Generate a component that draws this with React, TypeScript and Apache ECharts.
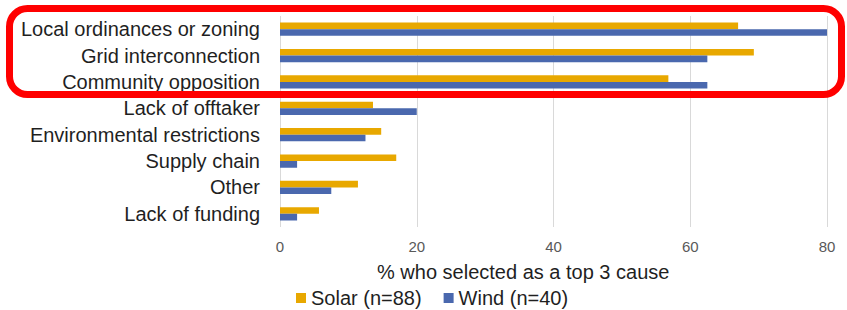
import React, { useEffect, useRef } from "react";
import * as echarts from "echarts";

const categories = [
  "Local ordinances or zoning",
  "Grid interconnection",
  "Community opposition",
  "Lack of offtaker",
  "Environmental restrictions",
  "Supply chain",
  "Other",
  "Lack of funding",
];
const solarValues = [67.0, 69.3, 56.8, 13.6, 14.8, 17.0, 11.4, 5.7];
const windValues = [80, 62.5, 62.5, 20, 12.5, 2.5, 7.5, 2.5];
const seriesNames = ["Solar (n=88)", "Wind (n=40)"];
const axisTitle = "% who selected as a top 3 cause";

const FONT = "'Liberation Sans', Arial, sans-serif";

export default function App() {
  const ref = useRef<HTMLDivElement>(null);
  useEffect(() => {
    if (!ref.current) return;
    const chart = echarts.init(ref.current, undefined, { renderer: "svg" });
    chart.setOption({
      animation: false,
      backgroundColor: "#ffffff",
      textStyle: { fontFamily: FONT },
      grid: { left: 280, right: 20, top: 16, bottom: 83, containLabel: false },
      xAxis: {
        type: "value",
        min: 0,
        max: 80,
        interval: 20,
        axisLine: { show: false },
        axisTick: { show: false },
        splitLine: { show: true, lineStyle: { color: "#d9d9d9", width: 1 } },
        axisLabel: { fontSize: 15, color: "#595959", margin: 12, fontFamily: FONT },
      },
      yAxis: {
        type: "category",
        data: categories,
        inverse: true,
        axisLine: { show: false },
        axisTick: { show: false },
        axisLabel: { fontSize: 20, color: "#1f1f1f", margin: 20, fontFamily: FONT },
      },
      legend: {
        left: 296,
        top: 288,
        padding: 0,
        itemWidth: 10,
        itemHeight: 10,
        itemGap: 22,
        icon: "rect",
        textStyle: { fontSize: 20, color: "#1f1f1f", fontFamily: FONT, lineHeight: 20 },
        data: seriesNames,
      },
      series: [
        {
          name: seriesNames[0],
          type: "bar",
          data: solarValues,
          barGap: "0%",
          barCategoryGap: "50%",
          itemStyle: { color: "#e8a800" },
        },
        {
          name: seriesNames[1],
          type: "bar",
          data: windValues,
          barGap: "0%",
          barCategoryGap: "50%",
          itemStyle: { color: "#4a68ae" },
        },
      ],
      graphic: [
        {
          type: "text",
          left: 377,
          top: 262,
          style: {
            text: axisTitle,
            fontSize: 20,
            fill: "#1f1f1f",
            fontFamily: FONT,
          },
        },
        {
          type: "rect",
          shape: { x: 9.5, y: 8.5, width: 832, height: 86, r: 18 },
          style: { fill: "none", stroke: "#ff0000", lineWidth: 7 },
          z: 100,
        },
      ],
    });
    return () => chart.dispose();
  }, []);
  return (
    <div
      ref={ref}
      style={{ position: "fixed", left: 0, top: 0, width: 847, height: 310 }}
    />
  );
}
